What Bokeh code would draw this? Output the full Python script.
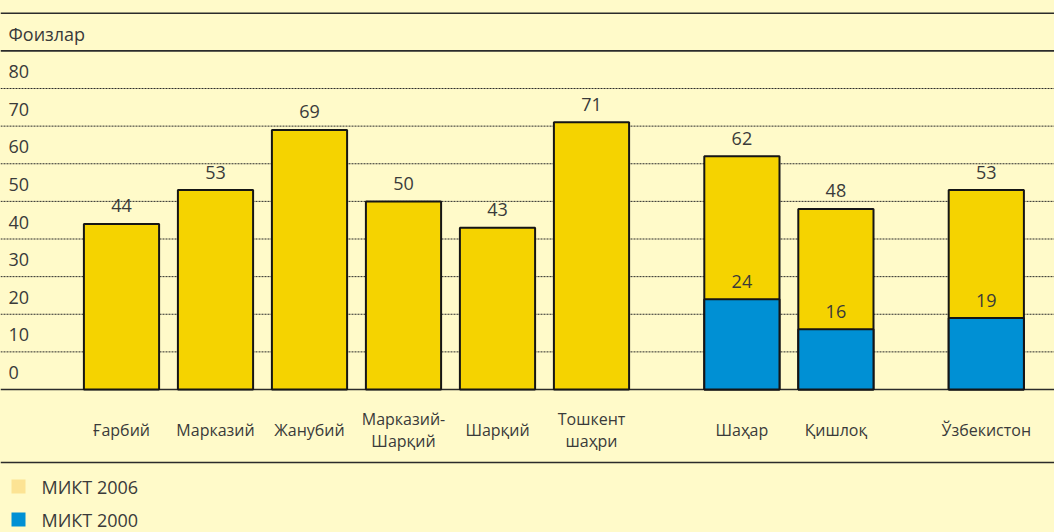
from bokeh.plotting import figure
from bokeh.models import Range1d, Span
from bokeh.core.properties import value
from bokeh.embed import file_html
from bokeh.resources import INLINE

# ---------------- data ----------------
categories = ["Ғарбий", "Марказий", "Жанубий", "Марказий-\nШарқий", "Шарқий",
              "Тошкент\nшаҳри", "Шаҳар", "Қишлоқ", "Ўзбекистон"]
groups = [0, 0, 0, 0, 0, 0, 1, 1, 2]
mikt2006 = [44, 53, 69, 50, 43, 71, 62, 48, 53]
mikt2000_categories = ["Шаҳар", "Қишлоқ", "Ўзбекистон"]
mikt2000 = [24, 16, 19]
y_ticks = [0, 10, 20, 30, 40, 50, 60, 70, 80]
y_title = "Фоизлар"
series_names = ["МИКТ 2006", "МИКТ 2000"]

# ---------------- style ----------------
BG = "#FFFAC9"
YEL = "#F5D300"
BLUE = "#0090D4"
LEG_YEL = "#FCE394"
INK = "#3A3A3A"
LINE = "#2B2B2B"
FONT = value("Open Sans")
FS = "18px"
FS_CAT = "16px"

W, H = 1054, 532
PX_Y = 3.7625          # px per percent
BASE = 389.0           # baseline (0%) in figure px from top
X_UNIT = 94.0          # px per bar slot
X0 = 121.0             # first bar centre in figure px


def yv(py):
    return (BASE - py) / PX_Y


x_start = -X0 / X_UNIT
x_end = x_start + W / X_UNIT

xs = [i + 0.6 * g for i, g in enumerate(groups)]
xs2 = [xs[categories.index(c)] for c in mikt2000_categories]

p = figure(width=W, height=H, x_range=Range1d(x_start, x_end),
           y_range=Range1d(yv(H), yv(0)), x_axis_type=None, y_axis_type=None,
           toolbar_location=None, output_backend="svg", min_border=0,
           background_fill_color=BG, border_fill_color=BG, outline_line_color=None)

# grid lines
for v in y_ticks[1:]:
    p.add_layout(Span(location=v, dimension="width", line_color=LINE, line_width=1,
                      line_dash="2 1", level="underlay"))
for loc in [0, 90, 100, yv(462)]:
    p.add_layout(Span(location=loc, dimension="width", line_color=LINE, line_width=1.6,
                      level="underlay"))

# bars
p.vbar(x=xs, top=mikt2006, bottom=0, width=0.8, fill_color=YEL,
       line_color="#151515", line_width=2)
p.vbar(x=xs2, top=mikt2000, bottom=0, width=0.8, fill_color=BLUE,
       line_color="#151515", line_width=2)

# value labels
p.text(x=xs, y=mikt2006, text=[str(v) for v in mikt2006], text_align="center",
       text_baseline="middle", y_offset=-18, text_font=FONT, text_font_size=FS,
       text_color=INK)
p.text(x=xs2, y=mikt2000, text=[str(v) for v in mikt2000], text_align="center",
       text_baseline="middle", y_offset=-18, text_font=FONT, text_font_size=FS,
       text_color=INK)

# y tick labels & title
p.text(x=[x_start] * len(y_ticks), y=y_ticks, text=[str(v) for v in y_ticks],
       text_align="left", text_baseline="middle", x_offset=8, y_offset=-17,
       text_font=FONT, text_font_size=FS, text_color=INK)
p.text(x=[x_start], y=[90], text=[y_title], text_align="left", text_baseline="middle",
       x_offset=8, y_offset=-17, text_font=FONT, text_font_size=FS, text_color=INK)

# category labels
p.text(x=xs, y=[yv(429)] * len(xs), text=categories, text_align="center",
       text_baseline="middle", text_line_height=1.0, text_font=FONT,
       text_font_size=FS_CAT, text_color=INK)

# legend
leg_y = [yv(486), yv(519)]
p.rect(x=[x_start + 18 / X_UNIT] * 2, y=leg_y, width=14, height=14,
       width_units="screen", height_units="screen", fill_color=[LEG_YEL, BLUE],
       line_color=None)
p.text(x=[x_start] * 2, y=leg_y, text=series_names, text_align="left",
       text_baseline="middle", x_offset=41, text_font=FONT, text_font_size=FS,
       text_color=INK)

tmpl = "{% block preamble %}<style>body{background:" + BG + ";}</style>{% endblock %}"
open("out.html", "w").write(file_html(p, INLINE, template=tmpl))
